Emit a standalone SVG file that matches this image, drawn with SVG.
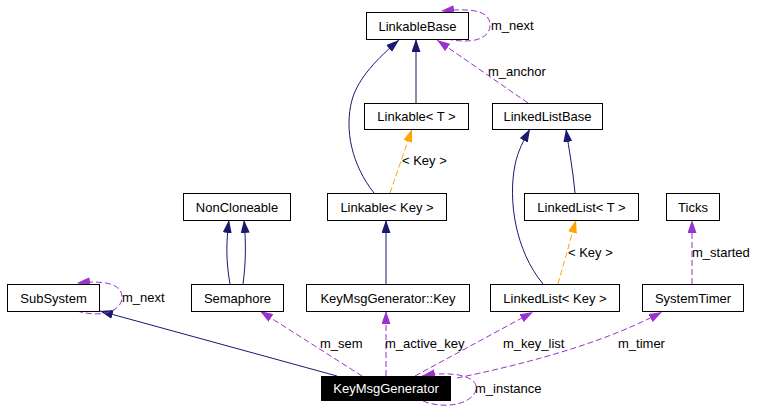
<svg xmlns="http://www.w3.org/2000/svg" width="759" height="416" viewBox="0 0 759 416">
<style>
.box{fill:#fff;stroke:#000;stroke-width:1}
.t{font-family:"Liberation Sans",Arial,sans-serif;font-size:13px;fill:#000;text-anchor:middle}
.l{font-family:"Liberation Sans",Arial,sans-serif;font-size:13px;fill:#000}
.inh{fill:none;stroke:#191970;stroke-width:1;marker-end:url(#an)}
.use{fill:none;stroke:#9a32cd;stroke-width:1;stroke-dasharray:6,3;marker-end:url(#ap)}
.tpl{fill:none;stroke:#ffa500;stroke-width:1;stroke-dasharray:6,3;marker-end:url(#ao)}
</style>
<defs>
<marker id="an" viewBox="0 0 13 9" refX="13" refY="4.5" markerWidth="13" markerHeight="9" markerUnits="userSpaceOnUse" orient="auto"><path d="M0,0 L13,4.5 L0,9 z" fill="#191970"/></marker>
<marker id="ap" viewBox="0 0 13 9" refX="13" refY="4.5" markerWidth="13" markerHeight="9" markerUnits="userSpaceOnUse" orient="auto"><path d="M0,0 L13,4.5 L0,9 z" fill="#9a32cd"/></marker>
<marker id="ao" viewBox="0 0 13 9" refX="13" refY="4.5" markerWidth="13" markerHeight="9" markerUnits="userSpaceOnUse" orient="auto"><path d="M0,0 L13,4.5 L0,9 z" fill="#ffa500"/></marker>
</defs>
<rect width="759" height="416" fill="#fff"/>
<g id="connectors">
<path class="inh" d="M416,103 L416,39"/>
<path class="inh" d="M374,193 C352,165 344,130 352,100 C358,78 378,58 399,40"/>
<path class="tpl" d="M390,193 L412,129"/>
<path class="inh" d="M386,284 L386,220"/>
<path class="inh" d="M230,284 C226,262 226,242 229,220"/>
<path class="inh" d="M243,284 C246,262 246,242 244,220"/>
<path class="inh" d="M543,284 C515,250 508,200 515,165 C518,150 524,140 530,129"/>
<path class="inh" d="M575,193 C573,170 569,150 566,129"/>
<path class="tpl" d="M558,284 L576,220"/>
<path class="use" d="M692,284 L692,220"/>
<path class="inh" d="M337,376 L100,311"/>
<path class="use" d="M77,311 C100,318 122,312 122,297 C122,284 105,280 77,283"/>
<path class="use" d="M362,376 L260,311"/>
<path class="use" d="M386,376 L386,311"/>
<path class="use" d="M415,376 L533,312"/>
<path class="use" d="M457,378 C520,365 600,345 662,312"/>
<path class="use" d="M423,401 C445,410 472,404 476,390 C479,377 455,370 422,376"/>
<path class="use" d="M447,39 C470,44 490,40 490,25 C490,10 470,8 441,11"/>
<path class="use" d="M528,103 L437,40"/>
<text class="l" x="491" y="30">m_next</text>
<text class="l" x="488" y="76">m_anchor</text>
<text class="l" x="402" y="165">&lt; Key &gt;</text>
<text class="l" x="568" y="257">&lt; Key &gt;</text>
<text class="l" x="692" y="257">m_started</text>
<text class="l" x="122" y="302">m_next</text>
<text class="l" x="320" y="348">m_sem</text>
<text class="l" x="385" y="348">m_active_key</text>
<text class="l" x="503" y="348">m_key_list</text>
<text class="l" x="618" y="348">m_timer</text>
<text class="l" x="475" y="393">m_instance</text>
</g>
<g id="LinkableBase"><rect class="box" x="366.5" y="12.5" width="102" height="27"/><text class="t" x="417.5" y="30.5">LinkableBase</text></g>
<g id="LinkableT"><rect class="box" x="364.5" y="103.5" width="104" height="26"/><text class="t" x="416.5" y="121">Linkable&lt; T &gt;</text></g>
<g id="LinkedListBase"><rect class="box" x="492.5" y="103.5" width="110" height="26"/><text class="t" x="547.5" y="121">LinkedListBase</text></g>
<g id="NonCloneable"><rect class="box" x="183.5" y="193.5" width="107" height="27"/><text class="t" x="237" y="211.5">NonCloneable</text></g>
<g id="LinkableKey"><rect class="box" x="327.5" y="193.5" width="119" height="27"/><text class="t" x="387" y="211.5">Linkable&lt; Key &gt;</text></g>
<g id="LinkedListT"><rect class="box" x="524.5" y="193.5" width="114" height="27"/><text class="t" x="581.5" y="211.5">LinkedList&lt; T &gt;</text></g>
<g id="Ticks"><rect class="box" x="666.5" y="193.5" width="53" height="27"/><text class="t" x="693" y="211.5">Ticks</text></g>
<g id="SubSystem"><rect class="box" x="7.5" y="284.5" width="92" height="27"/><text class="t" x="53.5" y="302.5">SubSystem</text></g>
<g id="Semaphore"><rect class="box" x="191.5" y="284.5" width="92" height="27"/><text class="t" x="237.5" y="302.5">Semaphore</text></g>
<g id="KeyMsgGeneratorKey"><rect class="box" x="306.5" y="284.5" width="163" height="27"/><text class="t" x="388" y="302.5">KeyMsgGenerator::Key</text></g>
<g id="LinkedListKey"><rect class="box" x="490.5" y="284.5" width="129" height="27"/><text class="t" x="555" y="302.5">LinkedList&lt; Key &gt;</text></g>
<g id="SystemTimer"><rect class="box" x="642.5" y="284.5" width="101" height="27"/><text class="t" x="693" y="302.5">SystemTimer</text></g>
<g id="KeyMsgGenerator"><rect x="321" y="376" width="130" height="25" fill="#000"/><text class="t" x="386" y="393" style="fill:#fff">KeyMsgGenerator</text></g>
</svg>
